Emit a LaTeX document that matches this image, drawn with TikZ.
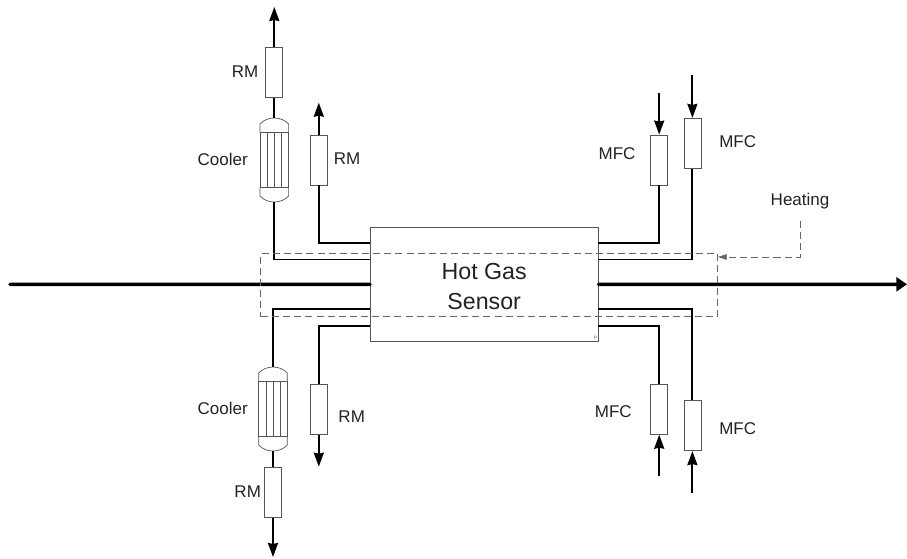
\documentclass[tikz,border=0pt]{standalone}
\usepackage{xcolor}
\usepackage{fontspec}
\setmainfont{Liberation Sans}
\usetikzlibrary{arrows.meta,calc}

\definecolor{boxgray}{HTML}{555555}
\definecolor{dashgray}{HTML}{666666}
\definecolor{labelgray}{HTML}{222222}

\tikzset{
    flowbox/.style={draw=boxgray, line width=0.7pt, rectangle, minimum width=0.51cm, minimum height=1.5cm, inner sep=0pt},
    coolerbody/.style={rectangle, minimum width=0.86cm, minimum height=2.52cm, inner sep=0pt},
    tag/.style={font=\fontsize{14.5}{17}\selectfont, text=labelgray, inner sep=0pt},
    gasline/.style={line width=1.6pt},
    gasarrow/.style={line width=1.6pt, -{Stealth[length=0.42cm, width=0.3cm, inset=0.03cm]}},
    mainline/.style={line width=3pt, line cap=round},
    heatline/.style={draw=dashgray, line width=0.75pt, dash pattern=on 6pt off 3.5pt}
}

% Cooler outline and tubes, drawn round a named node
\newcommand{\coolerparts}[1]{
    \begin{scope}[shift={(#1)}, draw=boxgray, line width=0.6pt]
        \draw (-14.3,-27.5) -- (-14.3,-36) .. controls (-7,-44) and (7,-44) .. (14.3,-36) -- (14.3,-27.5);
        \draw (-14.3,27.5) -- (-14.3,36) .. controls (-7,44) and (7,44) .. (14.3,36) -- (14.3,27.5);
        \draw (-14.3,-27.5) rectangle (14.3,27.5);
        \draw (-7,-27.5) -- (-7,27.5);
        \draw (0,-27.5) -- (0,27.5);
        \draw (7,-27.5) -- (7,27.5);
    \end{scope}
}

\begin{document}
\begin{tikzpicture}[x=0.03cm, y=-0.03cm]
    \useasboundingbox (0,0) rectangle (907,558);

    % Nodes
    \node[draw=boxgray, line width=0.8pt, rectangle, minimum width=6.83cm, minimum height=3.44cm, inner sep=0pt, align=center, text=labelgray, font=\fontsize{19.8}{25.6}\selectfont] (hotgas) at (484.2,284.4) {\rule{0pt}{18pt}Hot Gas\\Sensor};
    \node[font=\fontsize{4}{4}\selectfont, text=boxgray, inner sep=0pt] (pmark) at (595.5,338) {P};

    \node[flowbox] (rmTopA) at (274.3,72.7) {};
    \node[flowbox] (rmTopB) at (318.8,160) {};
    \node[coolerbody] (coolerTop) at (274.3,160) {};
    \node[flowbox] (rmLowA) at (273,492.3) {};
    \node[flowbox] (rmLowB) at (318.8,409.2) {};
    \node[coolerbody] (coolerLow) at (273,409) {};

    \node[flowbox] (mfcTopA) at (659.2,160) {};
    \node[flowbox] (mfcTopB) at (692.4,143.3) {};
    \node[flowbox] (mfcLowA) at (659.2,409.3) {};
    \node[flowbox] (mfcLowB) at (692.4,425.7) {};

    \node[tag] (rmTopAtag) at (245,71.7) {RM};
    \node[tag] (rmTopBtag) at (347,159) {RM};
    \node[tag] (coolerToptag) at (222.7,159) {Cooler};
    \node[tag] (rmLowAtag) at (247.7,491.7) {RM};
    \node[tag] (rmLowBtag) at (351.7,416.7) {RM};
    \node[tag] (coolerLowtag) at (222.7,408.3) {Cooler};
    \node[tag] (mfcTopAtag) at (617,154) {MFC};
    \node[tag] (mfcTopBtag) at (737.7,142) {MFC};
    \node[tag] (mfcLowAtag) at (613.3,412) {MFC};
    \node[tag] (mfcLowBtag) at (737.7,428.7) {MFC};
    \node[tag] (heating) at (800,200.7) {Heating};

    % Free ends and ports on the sensor
    \coordinate (gasIn) at (10,284.3);
    \coordinate (gasOut) at (907,284.3);
    \coordinate (outTopA) at (274.3,7);
    \coordinate (outTopB) at (318.8,102.7);
    \coordinate (outLowA) at (273,557);
    \coordinate (outLowB) at (318.8,466.7);
    \coordinate (inTopA) at (659.2,92.7);
    \coordinate (inTopB) at (692.4,75);
    \coordinate (inLowA) at (659.2,476);
    \coordinate (inLowB) at (692.4,492.7);
    \coordinate (portNW) at (370.3,243);
    \coordinate (portWN) at (370.3,259.5);
    \coordinate (portWS) at (370.3,309.3);
    \coordinate (portSW) at (370.3,326);
    \coordinate (portNE) at (598,243);
    \coordinate (portEN) at (598,259.5);
    \coordinate (portES) at (598,309.3);
    \coordinate (portSE) at (598,326);
    \coordinate (heatTip) at (717.7,257);

    % Coolers
    \coolerparts{coolerTop}
    \coolerparts{coolerLow}

    % Arrows
    \draw[mainline] (gasIn) -- (hotgas.west);
    \draw[mainline, -{Stealth[length=0.32cm, width=0.42cm, inset=0pt]}] (hotgas.east) -- (gasOut);

    \draw[gasarrow] (rmTopA.north) -- (outTopA);
    \draw[gasline] (coolerTop.north) -- (rmTopA.south);
    \draw[gasline] (coolerTop.south) |- (portWN);
    \draw[gasarrow] (rmTopB.north) -- (outTopB);
    \draw[gasline] (rmTopB.south) |- (portNW);

    \draw[gasarrow] (rmLowA.south) -- (outLowA);
    \draw[gasline] (coolerLow.south) -- (rmLowA.north);
    \draw[gasline] (coolerLow.north) |- (portWS);
    \draw[gasarrow] (rmLowB.south) -- (outLowB);
    \draw[gasline] (rmLowB.north) |- (portSW);

    \draw[gasarrow] (inTopA) -- (mfcTopA.north);
    \draw[gasline] (mfcTopA.south) |- (portNE);
    \draw[gasarrow] (inTopB) -- (mfcTopB.north);
    \draw[gasline] (mfcTopB.south) |- (portEN);

    \draw[gasarrow] (inLowA) -- (mfcLowA.south);
    \draw[gasline] (mfcLowA.north) |- (portSE);
    \draw[gasarrow] (inLowB) -- (mfcLowB.south);
    \draw[gasline] (mfcLowB.north) |- (portES);

    % Heating zone
    \node[heatline, draw, rectangle, minimum width=13.7cm, minimum height=1.89cm, inner sep=0pt] (heatzone) at (489.2,285) {};
    \draw[heatline, shorten <=0.36cm, -{Stealth[length=0.27cm, width=0.17cm, inset=0pt]}] (heating.south) |- (heatTip);
\end{tikzpicture}
\end{document}
